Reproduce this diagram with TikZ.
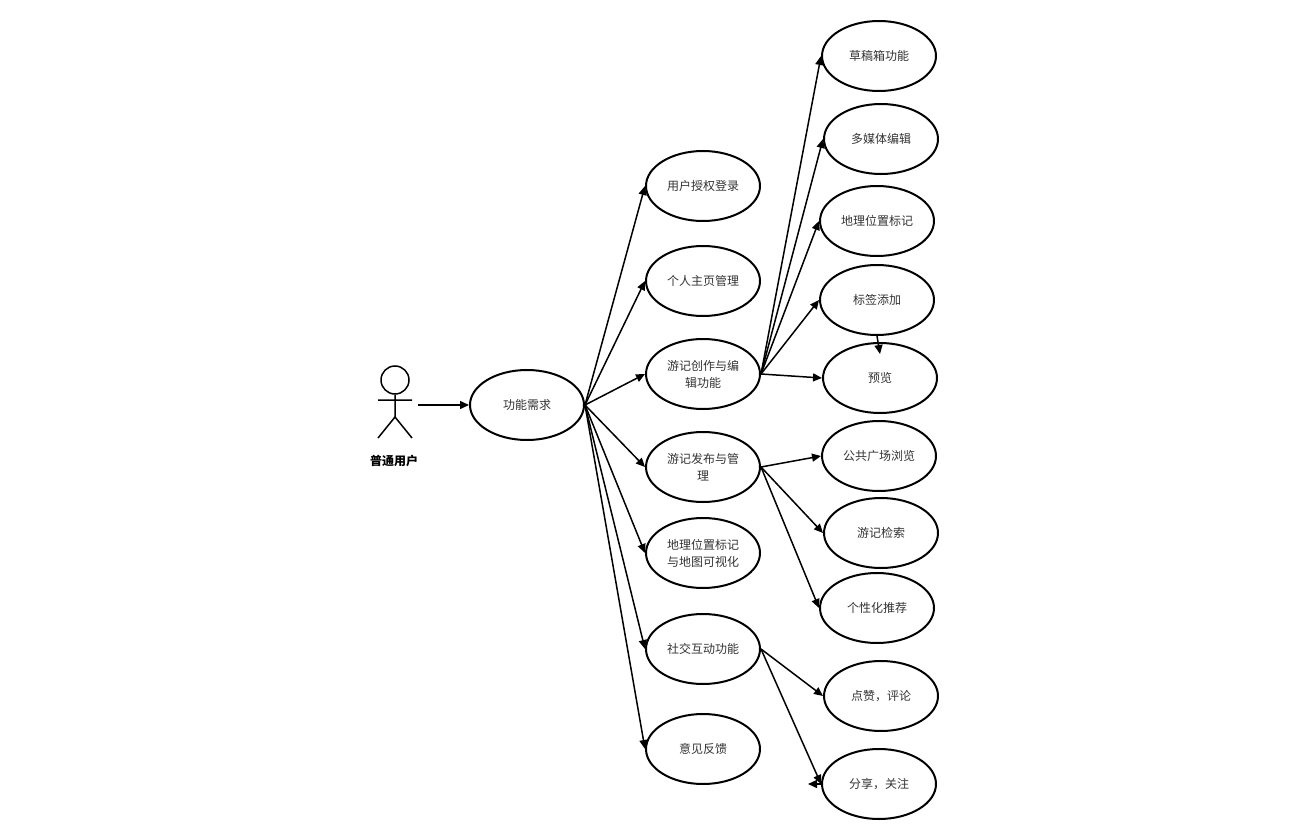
\documentclass[tikz,border=0pt]{standalone}
\usepackage{fontspec}
\setmainfont{Noto Sans CJK SC}
\usetikzlibrary{arrows.meta,shapes.geometric}
\begin{document}
\begin{tikzpicture}[x=1pt,y=-1pt,
  uc/.style={ellipse,draw,line width=2pt,minimum width=114pt,minimum height=70pt,inner sep=0pt,font=\fontsize{12}{17}\selectfont,align=center,text=black!80},
  ar/.style={-{Triangle[length=9pt,width=8pt]},line width=1.5pt}]
\useasboundingbox (0,0) rectangle (1296,840);
% actor
\node[circle,draw,line width=1.5pt,minimum size=28pt,inner sep=0pt] (head) at (395,380) {};
\coordinate (hip) at (395,417);
\draw[line width=1.5pt] (head.south) -- (hip) (378,400) -- (412,400) (378,438) -- (hip) -- (412,438);
\node[font=\bfseries\fontsize{12}{14}\selectfont] (actor) at (394,461) {普通用户};
\coordinate (as) at (418,405);
\node[uc] (f) at (527,405) {功能需求};
\draw[ar] (as) -- (f);
\node[uc] (m1) at (703,186) {用户授权登录};
\node[uc] (m2) at (703,281) {个人主页管理};
\node[uc] (m3) at (703,374) {游记创作与编\\辑功能};
\node[uc] (m4) at (703,467) {游记发布与管\\理};
\node[uc] (m5) at (703,553) {地理位置标记\\与地图可视化};
\node[uc] (m6) at (703,649) {社交互动功能};
\node[uc] (m7) at (703,749) {意见反馈};
\foreach \m in {m1,m2,m3,m4,m5,m6,m7} \draw[ar] (f.east) -- (\m.west);
\node[uc] (r1) at (879,56) {草稿箱功能};
\node[uc] (r2) at (881,139) {多媒体编辑};
\node[uc] (r3) at (877,221) {地理位置标记};
\node[uc] (r4) at (877,300) {标签添加};
\node[uc] (r5) at (880,378) {预览};
\node[uc] (r6) at (879,456) {公共广场浏览};
\node[uc] (r7) at (881,533) {游记检索};
\node[uc] (r8) at (877,608) {个性化推荐};
\node[uc] (r9) at (881,696) {点赞，评论};
\node[uc] (r10) at (879,784) {分享，关注};
\foreach \r in {r1,r2,r3,r4,r5} \draw[ar] (m3.east) -- (\r.west);
\foreach \r in {r6,r7,r8} \draw[ar] (m4.east) -- (\r.west);
\draw[ar] (m6.east) -- (r9.west);
\draw[ar] (m6.east) -- (r10.west);
\coordinate (pv) at (880,354);
\draw[ar] (r4.south) -- (pv);
\coordinate (sl) at (808,784);
\draw[ar] (r10.west) -- (sl);
\end{tikzpicture}
\end{document}
